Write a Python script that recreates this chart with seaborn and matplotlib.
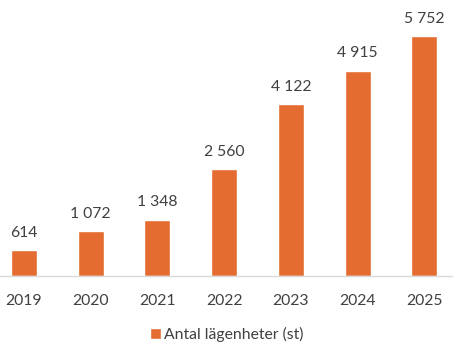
import pandas as pd
import matplotlib.pyplot as plt
import seaborn as sns

years = ['2019', '2020', '2021', '2022', '2023', '2024', '2025']
apartments = [614, 1072, 1348, 2560, 4122, 4915, 5752]
series_name = 'Antal lägenheter (st)'

df = pd.DataFrame({'year': years, 'count': apartments})

sns.set_style('white')
plt.rcParams['font.family'] = ['Lato', 'DejaVu Sans']

bar_color = '#E46C30'
text_color = '#404040'

fig = plt.figure(figsize=(4.53, 3.55), dpi=100)
ax = fig.add_axes([0, 0.2225, 1, 0.7775])

sns.barplot(data=df, x='year', y='count', color=bar_color, width=0.39,
            saturation=1, ax=ax, label=series_name)

# value labels with space as thousands separator
for i, v in enumerate(df['count']):
    ax.text(i, v + 250, f'{v:,}'.replace(',', ' '), ha='center', va='bottom',
            fontsize=11.3, color=text_color)

ax.set_xlim(-0.36, 6.43)
ax.set_ylim(0, 6614)
ax.set_xlabel('')
ax.set_ylabel('')
ax.set_yticks([])
for s in ['top', 'right', 'left']:
    ax.spines[s].set_visible(False)
ax.spines['bottom'].set_color('#D9D9D9')
ax.spines['bottom'].set_linewidth(1)
ax.tick_params(axis='x', length=0, pad=13, labelsize=11.3, colors=text_color)

leg = ax.legend(loc='center', bbox_to_anchor=(0.5, -0.212), frameon=False,
                fontsize=11.3, handlelength=0.75, handleheight=0.75, handletextpad=0.15)
for t in leg.get_texts():
    t.set_color(text_color)

fig.savefig('out.png', dpi=100)
